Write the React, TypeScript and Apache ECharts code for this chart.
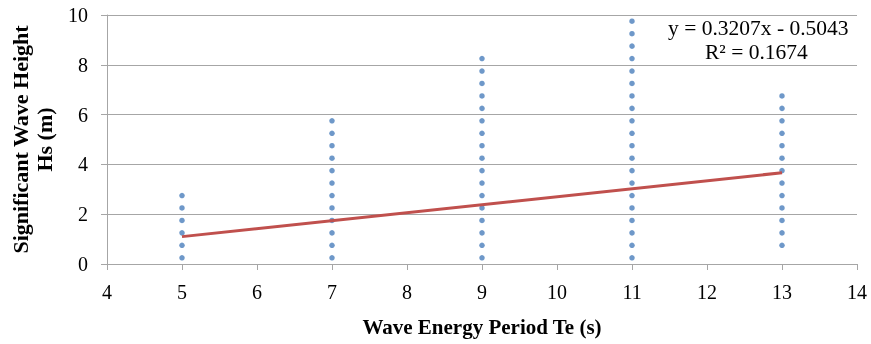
import React, { useEffect, useRef } from "react";
import * as echarts from "echarts";

const xTicks = [4, 5, 6, 7, 8, 9, 10, 11, 12, 13, 14];
const hsAt5 = [0.25, 0.75, 1.25, 1.75, 2.25, 2.75];
const hsAt7 = [0.25, 0.75, 1.25, 1.75, 2.25, 2.75, 3.25, 3.75, 4.25, 4.75, 5.25, 5.75];
const hsAt9 = [0.25, 0.75, 1.25, 1.75, 2.25, 2.75, 3.25, 3.75, 4.25, 4.75, 5.25, 5.75, 6.25, 6.75, 7.25, 7.75, 8.25];
const hsAt11 = [0.25, 0.75, 1.25, 1.75, 2.25, 2.75, 3.25, 3.75, 4.25, 4.75, 5.25, 5.75, 6.25, 6.75, 7.25, 7.75, 8.25, 8.75, 9.25, 9.75];
const hsAt13 = [0.75, 1.25, 1.75, 2.25, 2.75, 3.25, 3.75, 4.25, 4.75, 5.25, 5.75, 6.25, 6.75];
const groups: [number, number[]][] = [
  [5, hsAt5],
  [7, hsAt7],
  [9, hsAt9],
  [11, hsAt11],
  [13, hsAt13],
];
const trendX = [5, 13];
const trendY = [1.0992, 3.6648];
const equationText = "y = 0.3207x - 0.5043";
const r2Text = "R² = 0.1674";

const FONT = "Liberation Serif";

export default function App() {
  const ref = useRef<HTMLDivElement>(null);
  useEffect(() => {
    if (!ref.current) return;
    const chart = echarts.init(ref.current, undefined, { renderer: "svg" });
    const points: number[][] = [];
    groups.forEach(([x, ys]) => ys.forEach((y) => points.push([x, y])));
    chart.setOption({
      animation: false,
      grid: { left: 107, right: 14, top: 15, bottom: 80 },
      xAxis: {
        type: "value",
        min: xTicks[0],
        max: xTicks[xTicks.length - 1],
        interval: 1,
        name: "Wave Energy Period Te (s)",
        nameLocation: "middle",
        nameGap: 52,
        nameTextStyle: { fontFamily: FONT, fontWeight: "bold", fontSize: 21, color: "#000" },
        axisLine: { lineStyle: { color: "#a6a6a6", width: 1 } },
        axisTick: { show: true, length: 6, lineStyle: { color: "#a6a6a6" } },
        axisLabel: { fontFamily: FONT, fontSize: 20, color: "#000", margin: 18 },
        splitLine: { show: false },
      },
      yAxis: {
        type: "value",
        min: 0,
        max: 10,
        interval: 2,
        name: "Significant Wave Height\nHs (m)",
        nameLocation: "middle",
        nameGap: 51,
        nameTextStyle: { fontFamily: FONT, fontWeight: "bold", fontSize: 22, color: "#000", lineHeight: 24 },
        axisLine: { show: true, lineStyle: { color: "#a6a6a6", width: 1 } },
        axisTick: { show: true, length: 6, lineStyle: { color: "#a6a6a6" } },
        axisLabel: { fontFamily: FONT, fontSize: 20, color: "#000", margin: 19 },
        splitLine: { show: true, lineStyle: { color: "#a6a6a6", width: 1 } },
      },
      series: [
        {
          type: "scatter",
          data: points,
          symbol: "circle",
          symbolSize: 5.5,
          itemStyle: { color: "#4a7ebb" },
          z: 2,
        },
        {
          type: "line",
          data: trendX.map((x, i) => [x, trendY[i]]),
          showSymbol: false,
          lineStyle: { color: "#c0504d", width: 3 },
          z: 3,
        },
      ],
      graphic: [
        {
          type: "text",
          left: 668,
          top: 17,
          style: { text: equationText, fontFamily: FONT, fontSize: 21.5, fill: "#000" },
        },
        {
          type: "text",
          left: 705,
          top: 41,
          style: { text: r2Text, fontFamily: FONT, fontSize: 21.5, fill: "#000" },
        },
      ],
    });
    return () => chart.dispose();
  }, []);
  return (
    <div
      ref={ref}
      style={{ width: 871, height: 344, position: "fixed", left: 0, top: 0 }}
    />
  );
}
